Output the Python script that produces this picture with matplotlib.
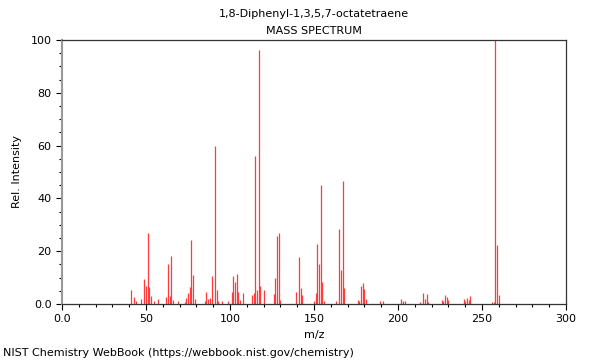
import matplotlib
matplotlib.use('Agg')
from matplotlib import pyplot as plt
from matplotlib.ticker import MultipleLocator

# m/z and relative intensity
mz = [41, 43, 44, 47, 49, 50, 51, 52, 53, 55, 57, 62, 63, 64, 65, 66, 69, 73,
      74, 75, 76, 77, 78, 79, 85, 86, 87, 88, 89, 91, 92, 93, 95, 99, 101, 102,
      103, 104, 105, 106, 108, 113, 114, 115, 116, 117, 118, 120, 126, 127, 128,
      129, 130, 139, 141, 142, 143, 150, 151, 152, 153, 154, 155, 156, 163, 165,
      166, 167, 168, 176, 177, 178, 179, 180, 181, 189, 191, 202, 203, 204, 213,
      215, 216, 217, 218, 226, 227, 228, 229, 230, 239, 240, 241, 242, 243, 256,
      257, 258, 259, 260]
intensity = [5.3, 2.5, 1.0, 2.0, 9.5, 6.8, 27.0, 6.3, 3.0, 1.3, 2.0, 2.8, 15.0,
             3.0, 18.3, 1.5, 1.0, 0.8, 2.4, 4.0, 6.3, 24.2, 11.0, 2.0, 1.0, 4.7,
             2.0, 2.4, 10.6, 60.0, 5.3, 1.0, 1.0, 1.0, 4.4, 10.6, 8.5, 11.2, 4.4,
             1.5, 4.3, 3.5, 4.3, 56.0, 5.3, 96.2, 7.0, 5.3, 3.7, 9.7, 25.6, 26.9,
             1.5, 4.7, 17.8, 6.0, 3.3, 1.0, 4.0, 22.6, 15.0, 45.0, 8.3, 1.0, 1.0,
             28.4, 13.0, 46.6, 6.0, 1.5, 1.0, 7.0, 7.8, 5.6, 2.0, 1.0, 1.0, 2.0,
             1.0, 1.0, 0.7, 4.0, 2.0, 3.6, 0.8, 1.4, 1.0, 3.3, 2.7, 1.5, 2.0, 1.0,
             2.3, 1.5, 2.9, 0.8, 0.8, 100.0, 22.3, 3.3]

fig = plt.figure(figsize=(6, 3.6), dpi=100)
ax = fig.add_axes([0.1033, 0.1556, 0.84, 0.7333])

ax.vlines(mz, 0, intensity, colors='#ff3b3b', linewidth=0.9)

ax.set_xlim(0, 300)
ax.set_ylim(0, 100)
ax.xaxis.set_minor_locator(MultipleLocator(10))
ax.yaxis.set_minor_locator(MultipleLocator(5))
ax.set_xticks([0, 50, 100, 150, 200, 250, 300])
ax.set_xticklabels(['0.0', '50', '100', '150', '200', '250', '300'], fontsize=8)
ax.set_yticks([0, 20, 40, 60, 80, 100])
ax.set_yticklabels(['0.0', '20', '40', '60', '80', '100'], fontsize=8)
ax.tick_params(which='major', length=4, width=0.8, direction='out')
ax.tick_params(which='minor', length=2.5, width=0.8, direction='out')

for s in ['top', 'right', 'bottom']:
    ax.spines[s].set_linewidth(0.9)
    ax.spines[s].set_color('#333333')
ax.spines['left'].set_color('#999999')
ax.spines['left'].set_linewidth(1.5)

ax.set_xlabel('m/z', fontsize=8, labelpad=4)
ax.set_ylabel('Rel. Intensity', fontsize=8, labelpad=6)

fig.text(0.523, 0.962, '1,8-Diphenyl-1,3,5,7-octatetraene', ha='center', va='center', fontsize=8)
fig.text(0.523, 0.915, 'MASS SPECTRUM', ha='center', va='center', fontsize=8)
fig.text(0.005, 0.02, 'NIST Chemistry WebBook (https://webbook.nist.gov/chemistry)',
         ha='left', va='center', fontsize=8)

fig.savefig('out.png', dpi=100)
